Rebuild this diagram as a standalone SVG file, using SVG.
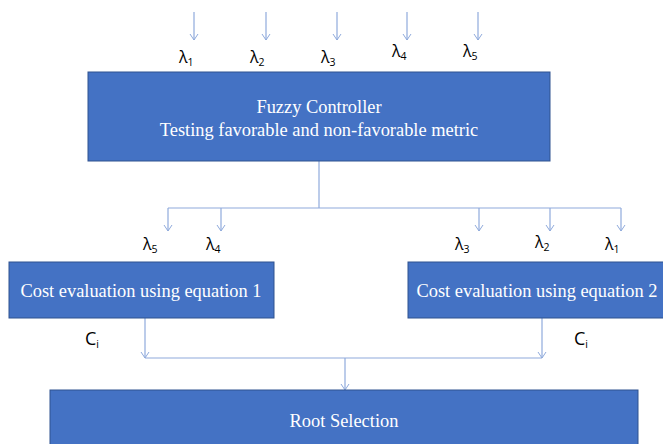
<svg xmlns="http://www.w3.org/2000/svg" width="663" height="444" viewBox="0 0 663 444">
<defs>
<marker id="arr" markerWidth="10" markerHeight="10" refX="9" refY="5" orient="auto" markerUnits="userSpaceOnUse" viewBox="0 0 10 10">
<path d="M3,1 L9,5 L3,9" fill="none" stroke="#8FAADC" stroke-width="1"/>
</marker>
<style>
.box{fill:#4472C4;stroke:#2F528F;stroke-width:1}
.bt{font-family:"Liberation Serif","Times New Roman",serif;font-size:18.4px;fill:#ffffff;text-anchor:middle}
.ln{fill:none;stroke:#8FAADC;stroke-width:1.2}
.ar{fill:none;stroke:#8FAADC;stroke-width:1.2;marker-end:url(#arr)}
.lb{font-family:"Open Sans","Liberation Sans",sans-serif;font-size:16px;fill:#000000}
.sb{font-size:10.5px}
.ci{font-family:"Open Sans","Liberation Sans",sans-serif;font-size:18px;fill:#000000}
</style>
</defs>
<rect width="663" height="444" fill="#ffffff"/>
<g id="connectors">
<line class="ar" x1="194" y1="12" x2="194" y2="40"/>
<line class="ar" x1="266" y1="12" x2="266" y2="40"/>
<line class="ar" x1="337" y1="12" x2="337" y2="40"/>
<line class="ar" x1="407" y1="12" x2="407" y2="40"/>
<line class="ar" x1="478" y1="12" x2="478" y2="40"/>
<line class="ln" x1="319" y1="161" x2="319" y2="208"/>
<line class="ln" x1="168" y1="208" x2="621" y2="208"/>
<line class="ar" x1="168" y1="208" x2="168" y2="231"/>
<line class="ar" x1="221" y1="208" x2="221" y2="231"/>
<line class="ar" x1="479" y1="208" x2="479" y2="231"/>
<line class="ar" x1="550" y1="208" x2="550" y2="231"/>
<line class="ar" x1="621" y1="208" x2="621" y2="231"/>
<line class="ar" x1="145" y1="318" x2="145" y2="358"/>
<line class="ar" x1="542" y1="318" x2="542" y2="358"/>
<line class="ln" x1="145" y1="358" x2="542" y2="358"/>
<line class="ar" x1="345" y1="358" x2="345" y2="390"/>
</g>
<g id="labels">
<text class="lb" x="179" y="63">λ<tspan class="sb" dy="3">1</tspan></text>
<text class="lb" x="250" y="63">λ<tspan class="sb" dy="3">2</tspan></text>
<text class="lb" x="321" y="63">λ<tspan class="sb" dy="3">3</tspan></text>
<text class="lb" x="392" y="57">λ<tspan class="sb" dy="3">4</tspan></text>
<text class="lb" x="463" y="57">λ<tspan class="sb" dy="3">5</tspan></text>
<text class="lb" x="143" y="250">λ<tspan class="sb" dy="3">5</tspan></text>
<text class="lb" x="206" y="250">λ<tspan class="sb" dy="3">4</tspan></text>
<text class="lb" x="455" y="250">λ<tspan class="sb" dy="3">3</tspan></text>
<text class="lb" x="535" y="248">λ<tspan class="sb" dy="3">2</tspan></text>
<text class="lb" x="605" y="250">λ<tspan class="sb" dy="3">1</tspan></text>
<text class="ci" x="85" y="345">C<tspan class="sb" dy="3">i</tspan></text>
<text class="ci" x="574" y="345">C<tspan class="sb" dy="3">i</tspan></text>
</g>
<g id="fuzzy">
<rect class="box" x="88" y="72" width="462" height="89"/>
<text class="bt" x="319" y="113">Fuzzy Controller</text>
<text class="bt" x="319" y="136">Testing favorable and non-favorable metric</text>
</g>
<g id="cost1">
<rect class="box" x="9" y="262" width="265" height="56"/>
<text class="bt" x="141" y="297">Cost evaluation using equation 1</text>
</g>
<g id="cost2">
<rect class="box" x="408" y="262" width="262" height="56"/>
<text class="bt" x="537" y="297">Cost evaluation using equation 2</text>
</g>
<g id="root">
<rect class="box" x="50" y="390" width="588" height="60"/>
<text class="bt" x="344" y="427">Root Selection</text>
</g>
</svg>
